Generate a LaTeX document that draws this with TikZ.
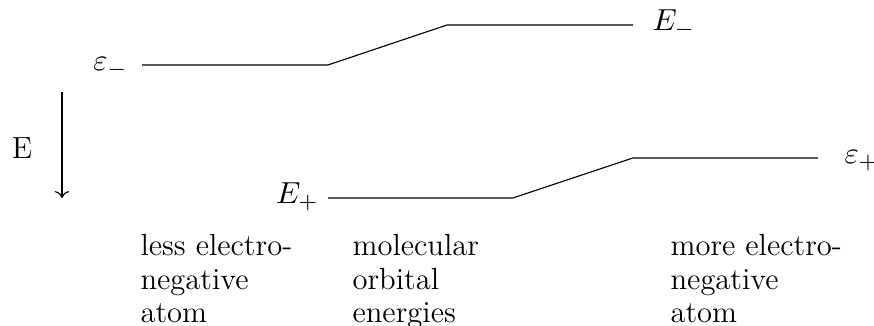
\documentclass[tikz,border=0pt]{standalone}
\usetikzlibrary{arrows.meta}
\begin{document}
\begin{tikzpicture}[x=0.3597pt,y=-0.3597pt,
  font=\fontsize{11}{12}\selectfont,
  lbl/.style={inner sep=0pt},
  level/.style={line width=0.4pt},
  desc/.style={inner sep=0pt,align=left,anchor=north west}]
\useasboundingbox (0,0) rectangle (874,326);
% left atom / upper MO
\node[lbl,anchor=mid east] (em) at (128,65) {$\varepsilon_-$};
\coordinate (a0) at (142,65);
\coordinate (a1) at (328,65);
\coordinate (a2) at (447,25);
\coordinate (a3) at (633,25);
\node[lbl,anchor=mid west] (Em) at (652,25) {$E_-$};
\draw[level] (a0) -- (a1) -- (a2) -- (a3);
% lower MO / right atom
\node[lbl,anchor=mid east] (Ep) at (319,198) {$E_+$};
\coordinate (b0) at (328,198);
\coordinate (b1) at (513,198);
\coordinate (b2) at (633,158);
\coordinate (b3) at (818,158);
\node[lbl,anchor=mid west] (ep) at (844,158) {$\varepsilon_+$};
\draw[level] (b0) -- (b1) -- (b2) -- (b3);
% energy arrow
\node[lbl] (El) at (22,148) {E};
\coordinate (ar1) at (62,92);
\coordinate (ar2) at (62,198);
\draw[->] (ar1) -- (ar2);
% descriptions
\node[desc] (less) at (140,234) {less electro-\\negative\\atom};
\node[desc] (mol) at (352,234) {molecular\\orbital\\energies};
\node[desc] (more) at (670,234) {more electro-\\negative\\atom};
\end{tikzpicture}
\end{document}
